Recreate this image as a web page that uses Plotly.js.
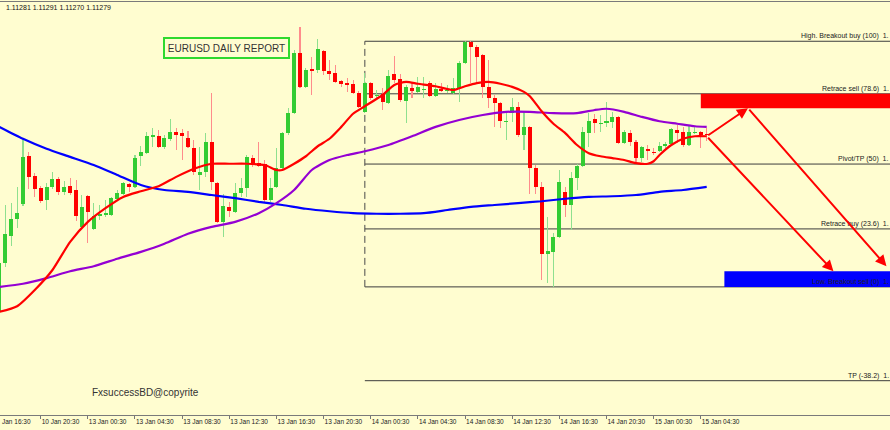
<!DOCTYPE html>
<html><head><meta charset="utf-8">
<script src="https://cdn.plot.ly/plotly-3.0.1.min.js"></script>
<style>html,body{margin:0;padding:0;background:#fffdd0;}#chart{width:890px;height:430px;}</style>
</head><body><div id="chart"></div>
<script>
// ---- data (EURUSD M30, 10 Jan 17:00 -> 15 Jan 05:00) ----
const open = [1.10996,1.11074,1.11117,1.11145,1.11169,1.11245,1.11213,1.11194,1.11175,1.11196,1.11209,1.11188,1.11197,1.11191,1.11132,1.11181,1.11129,1.11149,1.11151,1.11151,1.11177,1.11185,1.11201,1.11196,1.11245,1.11250,1.11276,1.11277,1.11260,1.11273,1.11284,1.11282,1.11274,1.11258,1.11215,1.11220,1.11268,1.11202,1.11140,1.11164,1.11156,1.11186,1.11194,1.11242,1.11234,1.11233,1.11175,1.11196,1.11226,1.11282,1.11314,1.11410,1.11356,1.11385,1.11383,1.11413,1.11381,1.11378,1.11365,1.11362,1.11361,1.11346,1.11316,1.11362,1.11341,1.11345,1.11330,1.11377,1.11369,1.11333,1.11354,1.11348,1.11351,1.11362,1.11341,1.11353,1.11349,1.11346,1.11354,1.11394,1.11428,1.11420,1.11407,1.11356,1.11338,1.11330,1.11300,1.11314,1.11324,1.11279,1.11292,1.11226,1.11196,1.11089,1.11092,1.11116,1.11188,1.11167,1.11210,1.11229,1.11282,1.11305,1.11297,1.11298,1.11300,1.11308,1.11266,1.11282,1.11268,1.11242,1.11257,1.11252,1.11253,1.11261,1.11265,1.11287,1.11284,1.11263,1.11282,1.11284,1.11281];
const high = [1.11082,1.11167,1.11170,1.11196,1.11273,1.11252,1.11218,1.11197,1.11202,1.11220,1.11212,1.11205,1.11210,1.11207,1.11183,1.11183,1.11170,1.11167,1.11175,1.11180,1.11191,1.11204,1.11202,1.11247,1.11261,1.11284,1.11290,1.11287,1.11279,1.11305,1.11290,1.11289,1.11285,1.11271,1.11260,1.11282,1.11346,1.11204,1.11185,1.11172,1.11202,1.11210,1.11247,1.11247,1.11268,1.11239,1.11210,1.11258,1.11284,1.11322,1.11415,1.11452,1.11386,1.11404,1.11433,1.11415,1.11399,1.11391,1.11367,1.11370,1.11367,1.11349,1.11378,1.11364,1.11351,1.11354,1.11383,1.11405,1.11377,1.11359,1.11362,1.11372,1.11372,1.11365,1.11362,1.11362,1.11359,1.11370,1.11397,1.11429,1.11429,1.11423,1.11409,1.11399,1.11343,1.11332,1.11314,1.11338,1.11332,1.11316,1.11293,1.11231,1.11204,1.11148,1.11122,1.11223,1.11196,1.11220,1.11233,1.11292,1.11314,1.11313,1.11311,1.11332,1.11316,1.11309,1.11287,1.11287,1.11271,1.11261,1.11263,1.11258,1.11268,1.11268,1.11290,1.11295,1.11292,1.11295,1.11292,1.11285,1.11291];
const low = [1.10989,1.11068,1.11101,1.11130,1.11165,1.11193,1.11180,1.11170,1.11159,1.11193,1.11183,1.11183,1.11183,1.11141,1.11130,1.11106,1.11127,1.11143,1.11148,1.11149,1.11173,1.11183,1.11188,1.11194,1.11229,1.11249,1.11260,1.11258,1.11257,1.11269,1.11255,1.11239,1.11258,1.11215,1.11191,1.11212,1.11191,1.11138,1.11116,1.11148,1.11154,1.11180,1.11180,1.11228,1.11228,1.11172,1.11172,1.11194,1.11225,1.11279,1.11313,1.11354,1.11354,1.11343,1.11378,1.11375,1.11367,1.11362,1.11356,1.11348,1.11345,1.11322,1.11314,1.11335,1.11335,1.11319,1.11329,1.11362,1.11332,1.11298,1.11338,1.11346,1.11338,1.11340,1.11340,1.11348,1.11346,1.11345,1.11332,1.11393,1.11362,1.11364,1.11338,1.11322,1.11292,1.11290,1.11271,1.11300,1.11276,1.11255,1.11185,1.11185,1.11047,1.11042,1.11036,1.11114,1.11148,1.11127,1.11191,1.11228,1.11260,1.11282,1.11284,1.11292,1.11290,1.11265,1.11265,1.11261,1.11236,1.11236,1.11239,1.11247,1.11252,1.11258,1.11263,1.11266,1.11260,1.11261,1.11281,1.11258,1.11270];
const close = [1.11074,1.11121,1.11145,1.11154,1.11244,1.11212,1.11193,1.11173,1.11196,1.11209,1.11188,1.11196,1.11186,1.11149,1.11164,1.11156,1.11149,1.11153,1.11154,1.11178,1.11186,1.11202,1.11196,1.11242,1.11252,1.11277,1.11279,1.11260,1.11274,1.11284,1.11279,1.11277,1.11260,1.11220,1.11220,1.11268,1.11204,1.11140,1.11165,1.11157,1.11186,1.11194,1.11244,1.11234,1.11229,1.11175,1.11194,1.11226,1.11282,1.11314,1.11410,1.11356,1.11383,1.11381,1.11417,1.11381,1.11377,1.11364,1.11361,1.11359,1.11346,1.11324,1.11362,1.11338,1.11343,1.11332,1.11373,1.11367,1.11335,1.11356,1.11349,1.11356,1.11353,1.11341,1.11353,1.11349,1.11351,1.11354,1.11394,1.11428,1.11420,1.11404,1.11356,1.11338,1.11330,1.11301,1.11301,1.11324,1.11279,1.11292,1.11226,1.11196,1.11089,1.11093,1.11116,1.11204,1.11167,1.11210,1.11229,1.11284,1.11301,1.11298,1.11298,1.11301,1.11308,1.11266,1.11284,1.11268,1.11242,1.11260,1.11253,1.11250,1.11261,1.11265,1.11289,1.11282,1.11263,1.11284,1.11284,1.11279,1.11279];

const tickIndex = [7,15,23,31,39,47,55,63,71,79,87,95,103,111,119];
const tickText = ["10 Jan 20:30","13 Jan 00:30","13 Jan 04:30","13 Jan 08:30","13 Jan 12:30","13 Jan 16:30","13 Jan 20:30","14 Jan 00:30","14 Jan 04:30","14 Jan 08:30","14 Jan 12:30","14 Jan 16:30","14 Jan 20:30","15 Jan 00:30","15 Jan 04:30"];
const firstTickText = "Jan 16:30";

const redMaIdx = [0,3,6,9,12,15,18,21,24,27,30,33,36,39,42,45,47,48,50,52,54,56,58,60,62,65,67,69,71,74,77,79,81,83,85,87,89,90,92,94,96,98,100,102,104,106,108,110,111,112,114,116,118,120];
const redMaVal = [1.10996,1.11005,1.11031,1.11063,1.11108,1.11140,1.11162,1.11180,1.11189,1.11197,1.11212,1.11225,1.11233,1.11233,1.11233,1.11231,1.11223,1.11223,1.11233,1.11245,1.11261,1.11273,1.11292,1.11313,1.11325,1.11343,1.11359,1.11364,1.11361,1.11357,1.11351,1.11357,1.11362,1.11364,1.11361,1.11356,1.11348,1.11341,1.11317,1.11297,1.11282,1.11263,1.11250,1.11245,1.11242,1.11239,1.11234,1.11233,1.11237,1.11247,1.11263,1.11273,1.11277,1.11277];
const purpleMaIdx = [0,4,8,12,16,20,24,28,32,36,40,44,47,50,53,56,59,62,66,70,74,78,82,86,90,94,98,101,103,106,109,112,115,118,120];
const purpleMaVal = [1.11036,1.11041,1.11050,1.11061,1.11069,1.11081,1.11092,1.11105,1.11121,1.11132,1.11140,1.11154,1.11170,1.11191,1.11223,1.11239,1.11247,1.11253,1.11263,1.11277,1.11292,1.11303,1.11311,1.11316,1.11316,1.11314,1.11314,1.11319,1.11321,1.11316,1.11308,1.11301,1.11297,1.11293,1.11292];
const blueMaIdx = [0,4,8,12,16,20,24,28,32,36,40,44,48,52,56,60,64,68,72,76,80,84,88,92,96,100,104,108,112,116,120];
const blueMaVal = [1.11292,1.11273,1.11257,1.11244,1.11231,1.11215,1.11199,1.11191,1.11188,1.11183,1.11178,1.11172,1.11167,1.11161,1.11157,1.11154,1.11153,1.11153,1.11154,1.11159,1.11164,1.11167,1.11170,1.11173,1.11177,1.11180,1.11181,1.11183,1.11188,1.11191,1.11196];

const fibStartIdx = 62;
const fibHigh = 1.11429;
const fibLow = 1.11036;
const fibLevels = [100, 78.6, 50, 23.6, 0, -38.2];
const fibNames = ["High. Breakout buy", "Retrace sell", "Pivot/TP", "Retrace buy", "Low. Breakout sell", "TP"];

const sellZone = {start: 119, top: 1.11345, bottom: 1.11322};
const buyZone = {start: 123, top: 1.11061, bottom: 1.11036};
const arrowFromIdx = [120, 127, 120];
const arrowFromPx  = [1.11277, 1.11322, 1.11277];
const arrowToIdx   = [127, 150.5, 141.5];
const arrowToPx    = [1.11322, 1.11069, 1.11061];

const ohlcText = "1.11281 1.11291 1.11270 1.11279";
const reportTitle = "EURUSD DAILY REPORT";
const copyright = "FxsuccessBD@copyrite";

// ---- build ----
const idx = open.map((_, i) => i);
const up = open.map((o, i) => close[i] >= o);
const FONT = "Liberation Sans, Arial, sans-serif";
const BG = "#fffdd0";
const X_MAX = 151.1;

const traces = [
  { type: "bar", x: idx, base: low, y: high.map((h, i) => h - low[i]), width: 0.18,
    marker: { color: up.map(u => u ? "#8fe08f" : "#ff8c8c"), line: { width: 0 } } },
  { type: "bar", x: idx, base: open.map((o, i) => Math.min(o, close[i])),
    y: open.map((o, i) => Math.max(Math.abs(close[i] - o), 0.000012)), width: 0.68,
    marker: { color: up.map(u => u ? "#33cc33" : "#ff0000"), line: { width: 0 } } },
  { type: "scatter", mode: "lines", x: blueMaIdx, y: blueMaVal, line: { color: "#0000ff", width: 2.2, shape: "spline", smoothing: 0.6 } },
  { type: "scatter", mode: "lines", x: purpleMaIdx, y: purpleMaVal, line: { color: "#9400d3", width: 2.2, shape: "spline", smoothing: 0.6 } },
  { type: "scatter", mode: "lines", x: redMaIdx, y: redMaVal, line: { color: "#ff0000", width: 2.2, shape: "spline", smoothing: 0.6 } }
];

const fibPrice = l => fibLow + (fibHigh - fibLow) * l / 100;
const shapes = [];
fibLevels.forEach(l => {
  const p = fibPrice(l);
  shapes.push({ type: "line", xref: "x", yref: "y", x0: fibStartIdx, x1: X_MAX + 10, y0: p, y1: p,
    line: { color: "#3c3c3c", width: 1 }, layer: "below" });
});
shapes.push({ type: "line", xref: "x", yref: "y", x0: fibStartIdx, x1: fibStartIdx, y0: fibPrice(0), y1: fibPrice(100),
  line: { color: "#4a4a4a", width: 1, dash: "7px,4px" }, layer: "below" });
shapes.push({ type: "rect", xref: "x", yref: "y", x0: sellZone.start, x1: X_MAX + 10, y0: sellZone.bottom, y1: sellZone.top,
  fillcolor: "#ff0000", line: { width: 0 }, layer: "above" });
shapes.push({ type: "rect", xref: "x", yref: "y", x0: buyZone.start, x1: X_MAX + 10, y0: buyZone.bottom, y1: buyZone.top,
  fillcolor: "#0000ff", line: { width: 0 }, layer: "above" });

const annotations = [];
fibLevels.forEach((l, k) => {
  annotations.push({ xref: "paper", yref: "y", x: 1, y: fibPrice(l), xanchor: "right", yanchor: "bottom",
    text: fibNames[k] + " (" + l + ")\u00a0\u00a01.", showarrow: false, borderpad: 0,
    font: { family: FONT, size: 7, color: "#222" } });
});
for (let k = 0; k < arrowFromIdx.length; k++) {
  annotations.push({ xref: "x", yref: "y", axref: "x", ayref: "y", x: arrowToIdx[k], y: arrowToPx[k],
    ax: arrowFromIdx[k], ay: arrowFromPx[k], text: "", showarrow: true, arrowhead: 2, arrowsize: 1.1,
    arrowwidth: 2, arrowcolor: "#ff0000", standoff: 0, startstandoff: 0 });
}
annotations.push({ xref: "paper", yref: "paper", x: 226.5 / 890, y: (415 - 48.5) / 413, xanchor: "center", yanchor: "middle",
  text: reportTitle, showarrow: false, width: 121, height: 16, bordercolor: "#2fd92f", borderwidth: 2, borderpad: 1,
  font: { family: FONT, size: 10, color: "#333" } });
annotations.push({ xref: "paper", yref: "paper", x: 145.5 / 890, y: (415 - 392) / 413, xanchor: "center", yanchor: "middle",
  text: copyright, showarrow: false, font: { family: FONT, size: 10, color: "#333" } });
annotations.push({ xref: "paper", yref: "paper", x: 5 / 890, y: (415 - 7) / 413, xanchor: "left", yanchor: "middle",
  text: ohlcText, showarrow: false, borderpad: 0, font: { family: FONT, size: 7, color: "#111" } });
annotations.push({ xref: "paper", yref: "paper", x: 1 / 890, y: (415 - 421.5) / 413, xanchor: "left", yanchor: "middle",
  text: firstTickText, showarrow: false, borderpad: 0, font: { family: FONT, size: 6.5, color: "#222" } });

const layout = {
  width: 890, height: 430,
  margin: { l: 0, r: 0, t: 2, b: 15, pad: 0 },
  paper_bgcolor: BG, plot_bgcolor: BG,
  showlegend: false, hovermode: false, barmode: "overlay", bargap: 0,
  xaxis: { range: [0.1, X_MAX], tickmode: "array", tickvals: tickIndex, ticktext: tickText,
    ticks: "outside", ticklen: 3, tickcolor: "#777", tickwidth: 1,
    showgrid: false, zeroline: false, showline: true, linecolor: "#7a7a7a", linewidth: 1, mirror: true,
    ticklabelposition: "outside right", tickfont: { family: FONT, size: 6.5, color: "#222" }, fixedrange: true },
  yaxis: { range: [1.10831, 1.114918], showgrid: false, zeroline: false, showticklabels: false, showline: false, fixedrange: true },
  shapes: shapes, annotations: annotations
};

Plotly.newPlot("chart", traces, layout, { staticPlot: true, displayModeBar: false });
</script>
</body></html>
